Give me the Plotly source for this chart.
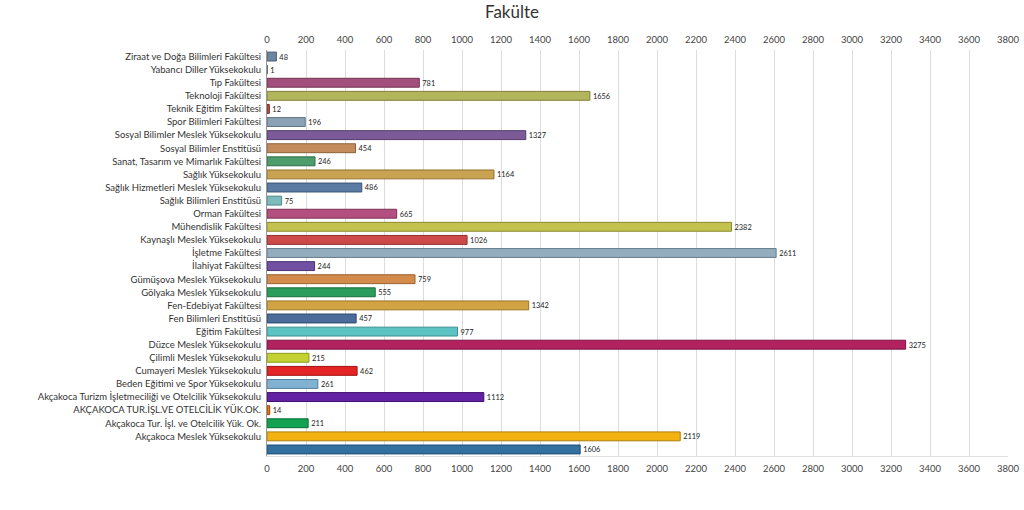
import plotly.graph_objects as go

categories = [
    "Ziraat ve Doğa Bilimleri Fakültesi",
    "Yabancı Diller Yüksekokulu",
    "Tıp Fakültesi",
    "Teknoloji Fakültesi",
    "Teknik Eğitim Fakültesi",
    "Spor Bilimleri Fakültesi",
    "Sosyal Bilimler Meslek Yüksekokulu",
    "Sosyal Bilimler Enstitüsü",
    "Sanat, Tasarım ve Mimarlık Fakültesi",
    "Sağlık Yüksekokulu",
    "Sağlık Hizmetleri Meslek Yüksekokulu",
    "Sağlık Bilimleri Enstitüsü",
    "Orman Fakültesi",
    "Mühendislik Fakültesi",
    "Kaynaşlı Meslek Yüksekokulu",
    "İşletme Fakültesi",
    "İlahiyat Fakültesi",
    "Gümüşova Meslek Yüksekokulu",
    "Gölyaka Meslek Yüksekokulu",
    "Fen-Edebiyat Fakültesi",
    "Fen Bilimleri Enstitüsü",
    "Eğitim Fakültesi",
    "Düzce Meslek Yüksekokulu",
    "Çilimli Meslek Yüksekokulu",
    "Cumayeri Meslek Yüksekokulu",
    "Beden Eğitimi ve Spor Yüksekokulu",
    "Akçakoca Turizm İşletmeciliği ve Otelcilik Yüksekokulu",
    "AKÇAKOCA TUR.İŞL.VE OTELCİLİK YÜK.OK.",
    "Akçakoca Tur. İşl. ve Otelcilik Yük. Ok.",
    "Akçakoca Meslek Yüksekokulu",
    " ",
]

values = [48, 1, 781, 1656, 12, 196, 1327, 454, 246, 1164, 486, 75, 665, 2382,
          1026, 2611, 244, 759, 555, 1342, 457, 977, 3275, 215, 462, 261, 1112,
          14, 211, 2119, 1606]

colors = ["#6d86a0", "#6d86a0", "#a24f7d", "#b3b55c", "#b94a4a", "#8aa2b4",
          "#7a5b97", "#c38b5c", "#4c9c6c", "#c9a252", "#5b7ba3", "#7cbcbc",
          "#b3507f", "#c3c24f", "#cc4a4a", "#93acbe", "#7150a3", "#d28b4b",
          "#2b9c5c", "#d2a342", "#4b6b9b", "#5cc2c2", "#b2225f", "#c3d232",
          "#e22424", "#82b2d2", "#6222a2", "#e27212", "#12a252", "#f2b212",
          "#31709f"]

line_colors = ["#4a5d72", "#4a5d72", "#72334f", "#7f8038", "#862e2e", "#5f7383",
               "#53396a", "#8d6238", "#2e6e48", "#93722e", "#3a5676", "#518888",
               "#7f3155", "#8c8b2f", "#922b2b", "#667e8d", "#4c3274", "#9a6230",
               "#196e3c", "#9a7424", "#2f4870", "#3b8f8f", "#7c1040", "#8d9a1c",
               "#a01010", "#55809e", "#411070", "#a04e06", "#067034", "#b07e08",
               "#1d4e74"]

tick_vals = list(range(0, 3801, 200))

FONT = "Lato, DejaVu Sans"

fig = go.Figure()
fig.add_trace(go.Bar(
    x=values, y=categories, orientation="h",
    marker=dict(color=colors, line=dict(color=line_colors, width=1)),
    text=[str(v) for v in values], textposition="outside",
    textfont=dict(family=FONT, size=10, color="#222222"),
    cliponaxis=False, showlegend=False,
))
# invisible trace to carry top axis
fig.add_trace(go.Scatter(x=[0], y=[categories[0]], xaxis="x2", mode="markers",
                         marker=dict(opacity=0), showlegend=False, hoverinfo="skip"))

fig.update_layout(
    width=1024, height=510,
    margin=dict(l=267, r=16, t=50, b=54, autoexpand=False),
    paper_bgcolor="white", plot_bgcolor="white",
    bargap=0.32,
    title=dict(text="Fakülte", x=0.5, xanchor="center", y=0.976, yanchor="middle",
               font=dict(family=FONT, size=17, color="#333333"), automargin=False),
    xaxis=dict(range=[0, 3800], tickvals=tick_vals, showgrid=True, automargin=False,
               gridcolor="#dcdcdc", gridwidth=1, zeroline=False,
               showline=True, linecolor="#e0e0e0", ticks="outside", ticklen=4,
               tickcolor="white",
               tickfont=dict(family=FONT, size=9.5, color="#444444")),
    xaxis2=dict(range=[0, 3800], tickvals=tick_vals, overlaying="x", side="top",
                matches="x", showgrid=False, zeroline=False, automargin=False,
                ticks="outside", ticklen=2, tickcolor="white",
                tickfont=dict(family=FONT, size=9.5, color="#444444")),
    yaxis=dict(categoryorder="array", categoryarray=categories,
               range=[len(categories) - 0.5, -0.5], autorange=False,
               showline=True, linecolor="#999999", linewidth=1, ticks="outside",
               ticklen=3, tickcolor="white", showgrid=False, automargin=False,
               tickfont=dict(family=FONT, size=9.5, color="#333333")),
)

fig.write_html("out.html", config={"displayModeBar": False},
               post_script="document.body.style.margin='0';document.body.style.overflow='hidden';")
